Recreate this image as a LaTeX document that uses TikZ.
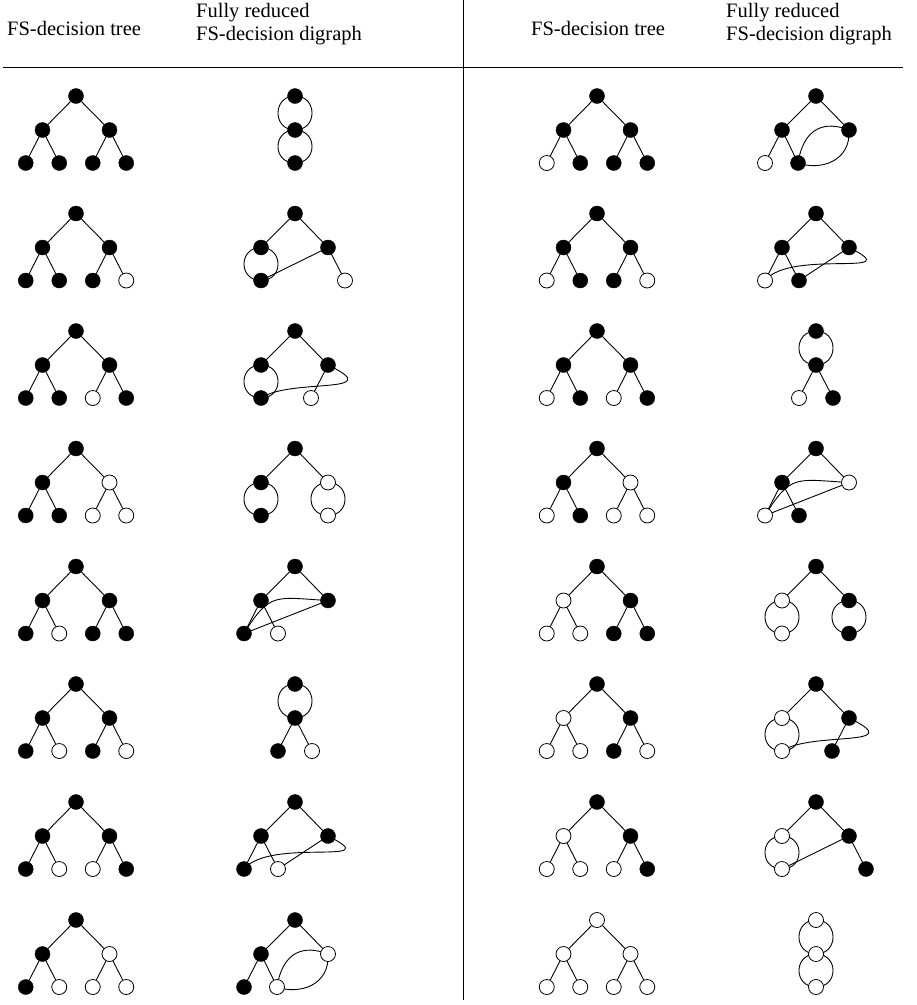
\documentclass[tikz,border=0pt]{standalone}
\usepackage{fontspec}
\setmainfont{Liberation Serif}
\usepackage{tikz}
\usetikzlibrary{backgrounds}
\tikzset{
    fs black/.style={circle, draw=black, fill=black, inner sep=0pt,
        minimum size=15pt},
    fs white/.style={circle, draw=black, fill=white, line width=0.8pt,
        inner sep=0pt, minimum size=15pt},
    fs edge/.style={line width=0.9pt},
    fs head/.style={font=\fontsize{20.5}{23.5}\selectfont, align=left,
        anchor=west, inner sep=0pt},
    fs rule/.style={line width=0.8pt},
}
% tree: shift, root, inner nodes, four leaves
\newcommand{\fstree}[8]{%
    \begin{scope}[shift={#1}]
        \node[#2] (t0) at (0,0) {};
        \node[#3] (t1) at (-33.5,34) {};
        \node[#4] (t2) at (33.5,34) {};
        \node[#5] (t3) at (-50.25,67) {};
        \node[#6] (t4) at (-16.75,67) {};
        \node[#7] (t5) at (16.75,67) {};
        \node[#8] (t6) at (50.25,67) {};
        \draw[fs edge] (t0) -- (t1) (t0) -- (t2) (t1) -- (t3) (t1) -- (t4)
            (t2) -- (t5) (t2) -- (t6);
    \end{scope}}
% double edge drawn as a circle through two centres
\newcommand{\fsloop}[2]{%
    \draw[fs edge] (#1.center) .. controls +(-22.7,0) and +(-22.7,0) .. (#2.center)
        .. controls +(22.7,0) and +(22.7,0) .. (#1.center);}

\begin{document}
\begin{tikzpicture}[x=1pt, y=-1pt]
    \useasboundingbox (0,0) rectangle (917,1005);

    % header
    \node[fs head] (tl) at (7,28) {FS-decision tree};
    \node[fs head] (gl) at (196,24) {Fully reduced\\FS-decision digraph};
    \node[fs head] (tr) at (531,28) {FS-decision tree};
    \node[fs head] (gr) at (726,24) {Fully reduced\\FS-decision digraph};
    \coordinate (ruleA) at (3,67);
    \coordinate (ruleB) at (903,67);
    \coordinate (divA) at (463,0);
    \coordinate (divB) at (463,1000);
    \draw[fs rule] (ruleA) -- (ruleB);
    \draw[fs rule] (divA) -- (divB);

    % trees, left column
    \fstree{(76,96)}{fs black}{fs black}{fs black}{fs black}{fs black}{fs black}{fs black}
    \fstree{(76,213.5)}{fs black}{fs black}{fs black}{fs black}{fs black}{fs black}{fs white}
    \fstree{(76,331)}{fs black}{fs black}{fs black}{fs black}{fs black}{fs white}{fs black}
    \fstree{(76,448.5)}{fs black}{fs black}{fs white}{fs black}{fs black}{fs white}{fs white}
    \fstree{(76,566.5)}{fs black}{fs black}{fs black}{fs black}{fs white}{fs black}{fs black}
    \fstree{(76,684)}{fs black}{fs black}{fs black}{fs black}{fs white}{fs black}{fs white}
    \fstree{(76,802)}{fs black}{fs black}{fs black}{fs black}{fs white}{fs white}{fs black}
    \fstree{(76,920)}{fs black}{fs black}{fs white}{fs black}{fs white}{fs white}{fs white}

    % trees, right column
    \fstree{(597,96)}{fs black}{fs black}{fs black}{fs white}{fs black}{fs black}{fs black}
    \fstree{(597,213.5)}{fs black}{fs black}{fs black}{fs white}{fs black}{fs black}{fs white}
    \fstree{(597,331)}{fs black}{fs black}{fs black}{fs white}{fs black}{fs white}{fs black}
    \fstree{(597,448.5)}{fs black}{fs black}{fs white}{fs white}{fs black}{fs white}{fs white}
    \fstree{(597,566.5)}{fs black}{fs white}{fs black}{fs white}{fs white}{fs black}{fs black}
    \fstree{(597,684)}{fs black}{fs white}{fs black}{fs white}{fs white}{fs black}{fs white}
    \fstree{(597,802)}{fs black}{fs white}{fs black}{fs white}{fs white}{fs white}{fs black}
    \fstree{(597,920)}{fs white}{fs white}{fs white}{fs white}{fs white}{fs white}{fs white}

    % digraphs, left column
    \begin{scope}[shift={(295,96)}]
        \node[fs black] (a0) at (0,0) {};
        \node[fs black] (a1) at (0,34) {};
        \node[fs black] (a2) at (0,67) {};
        \begin{scope}[on background layer]
            \fsloop{a0}{a1}
            \fsloop{a1}{a2}
        \end{scope}
    \end{scope}

    \begin{scope}[shift={(295,213.5)}]
        \node[fs black] (b0) at (0,0) {};
        \node[fs black] (b1) at (-34,34) {};
        \node[fs black] (b2) at (33,34) {};
        \node[fs black] (b3) at (-34,67) {};
        \node[fs white] (b4) at (50,67) {};
        \begin{scope}[on background layer]
            \draw[fs edge] (b0.center) -- (b1.center) (b0.center) -- (b2.center);
            \fsloop{b1}{b3}
            \draw[fs edge] (b3.center) -- (b2.center) -- (b4.center);
        \end{scope}
    \end{scope}

    \begin{scope}[shift={(295,331)}]
        \node[fs black] (c0) at (0,0) {};
        \node[fs black] (c1) at (-34,34) {};
        \node[fs black] (c2) at (33,34) {};
        \node[fs black] (c3) at (-34,67) {};
        \node[fs white] (c4) at (16,67) {};
        \begin{scope}[on background layer]
            \draw[fs edge] (c0.center) -- (c1.center) (c0.center) -- (c2.center);
            \fsloop{c1}{c3}
            \draw[fs edge] (c2.center) -- (c4.center);
            \draw[fs edge] (c3.center) .. controls (-5,47) and (95,64) .. (c2.center);
        \end{scope}
    \end{scope}

    \begin{scope}[shift={(295,448.5)}]
        \node[fs black] (d0) at (0,0) {};
        \node[fs black] (d1) at (-34,34) {};
        \node[fs white] (d2) at (33,34) {};
        \node[fs black] (d3) at (-34,67) {};
        \node[fs white] (d4) at (33,67) {};
        \begin{scope}[on background layer]
            \draw[fs edge] (d0.center) -- (d1.center) (d0.center) -- (d2.center);
            \fsloop{d1}{d3}
            \fsloop{d2}{d4}
        \end{scope}
    \end{scope}

    \begin{scope}[shift={(295,566.5)}]
        \node[fs black] (e0) at (0,0) {};
        \node[fs black] (e1) at (-34,34) {};
        \node[fs black] (e2) at (33,34) {};
        \node[fs black] (e3) at (-51,67) {};
        \node[fs white] (e4) at (-17,67) {};
        \begin{scope}[on background layer]
            \draw[fs edge] (e0.center) -- (e1.center) (e0.center) -- (e2.center);
            \draw[fs edge] (e1.center) -- (e3.center) (e1.center) -- (e4.center);
            \draw[fs edge] (e3.center) -- (e2.center);
            \draw[fs edge] (e3.center) .. controls (-25,25) and (-20,31) .. (e2.center);
        \end{scope}
    \end{scope}

    \begin{scope}[shift={(295,684)}]
        \node[fs black] (f0) at (0,0) {};
        \node[fs black] (f1) at (0,34) {};
        \node[fs black] (f2) at (-17,67) {};
        \node[fs white] (f3) at (17,67) {};
        \begin{scope}[on background layer]
            \fsloop{f0}{f1}
            \draw[fs edge] (f1.center) -- (f2.center) (f1.center) -- (f3.center);
        \end{scope}
    \end{scope}

    \begin{scope}[shift={(295,802)}]
        \node[fs black] (g0) at (0,0) {};
        \node[fs black] (g1) at (-34,34) {};
        \node[fs black] (g2) at (33,34) {};
        \node[fs black] (g3) at (-51,67) {};
        \node[fs white] (g4) at (-17,67) {};
        \begin{scope}[on background layer]
            \draw[fs edge] (g0.center) -- (g1.center) (g0.center) -- (g2.center);
            \draw[fs edge] (g1.center) -- (g3.center) (g1.center) -- (g4.center);
            \draw[fs edge] (g4.center) -- (g2.center);
            \draw[fs edge] (g3.center) .. controls (-25,35) and (95,65) .. (g2.center);
        \end{scope}
    \end{scope}

    \begin{scope}[shift={(295,920)}]
        \node[fs black] (h0) at (0,0) {};
        \node[fs black] (h1) at (-34,34) {};
        \node[fs white] (h2) at (33,34) {};
        \node[fs black] (h3) at (-51,67) {};
        \node[fs white] (h4) at (-18,67) {};
        \begin{scope}[on background layer]
            \draw[fs edge] (h0.center) -- (h1.center) (h0.center) -- (h2.center);
            \draw[fs edge] (h1.center) -- (h3.center) (h1.center) -- (h4.center);
            \draw[fs edge] (h4.center) .. controls (-12,30) and (10,25) .. (h2.center);
            \draw[fs edge] (h4.center) .. controls (5,75) and (35,65) .. (h2.center);
        \end{scope}
    \end{scope}

    % digraphs, right column
    \begin{scope}[shift={(816,96)}]
        \node[fs black] (p0) at (0,0) {};
        \node[fs black] (p1) at (-34,34) {};
        \node[fs black] (p2) at (33,34) {};
        \node[fs white] (p3) at (-51,67) {};
        \node[fs black] (p4) at (-18,67) {};
        \begin{scope}[on background layer]
            \draw[fs edge] (p0.center) -- (p1.center) (p0.center) -- (p2.center);
            \draw[fs edge] (p1.center) -- (p3.center) (p1.center) -- (p4.center);
            \draw[fs edge] (p4.center) .. controls (-12,30) and (10,25) .. (p2.center);
            \draw[fs edge] (p4.center) .. controls (5,75) and (35,65) .. (p2.center);
        \end{scope}
    \end{scope}

    \begin{scope}[shift={(816,213.5)}]
        \node[fs black] (q0) at (0,0) {};
        \node[fs black] (q1) at (-34,34) {};
        \node[fs black] (q2) at (33,34) {};
        \node[fs white] (q3) at (-51,67) {};
        \node[fs black] (q4) at (-17,67) {};
        \begin{scope}[on background layer]
            \draw[fs edge] (q0.center) -- (q1.center) (q0.center) -- (q2.center);
            \draw[fs edge] (q1.center) -- (q3.center) (q1.center) -- (q4.center);
            \draw[fs edge] (q4.center) -- (q2.center);
            \draw[fs edge] (q3.center) .. controls (-25,35) and (95,65) .. (q2.center);
        \end{scope}
    \end{scope}

    \begin{scope}[shift={(816,331)}]
        \node[fs black] (r0) at (0,0) {};
        \node[fs black] (r1) at (0,34) {};
        \node[fs white] (r2) at (-17,67) {};
        \node[fs black] (r3) at (17,67) {};
        \begin{scope}[on background layer]
            \fsloop{r0}{r1}
            \draw[fs edge] (r1.center) -- (r2.center) (r1.center) -- (r3.center);
        \end{scope}
    \end{scope}

    \begin{scope}[shift={(816,448.5)}]
        \node[fs black] (s0) at (0,0) {};
        \node[fs black] (s1) at (-34,34) {};
        \node[fs white] (s2) at (33,34) {};
        \node[fs white] (s3) at (-51,67) {};
        \node[fs black] (s4) at (-17,67) {};
        \begin{scope}[on background layer]
            \draw[fs edge] (s0.center) -- (s1.center) (s0.center) -- (s2.center);
            \draw[fs edge] (s1.center) -- (s3.center) (s1.center) -- (s4.center);
            \draw[fs edge] (s3.center) -- (s2.center);
            \draw[fs edge] (s3.center) .. controls (-25,25) and (-20,31) .. (s2.center);
        \end{scope}
    \end{scope}

    \begin{scope}[shift={(816,566.5)}]
        \node[fs black] (u0) at (0,0) {};
        \node[fs white] (u1) at (-34,34) {};
        \node[fs black] (u2) at (33,34) {};
        \node[fs white] (u3) at (-34,67) {};
        \node[fs black] (u4) at (33,67) {};
        \begin{scope}[on background layer]
            \draw[fs edge] (u0.center) -- (u1.center) (u0.center) -- (u2.center);
            \fsloop{u1}{u3}
            \fsloop{u2}{u4}
        \end{scope}
    \end{scope}

    \begin{scope}[shift={(816,684)}]
        \node[fs black] (v0) at (0,0) {};
        \node[fs white] (v1) at (-34,34) {};
        \node[fs black] (v2) at (33,34) {};
        \node[fs white] (v3) at (-34,67) {};
        \node[fs black] (v4) at (16,67) {};
        \begin{scope}[on background layer]
            \draw[fs edge] (v0.center) -- (v1.center) (v0.center) -- (v2.center);
            \fsloop{v1}{v3}
            \draw[fs edge] (v2.center) -- (v4.center);
            \draw[fs edge] (v3.center) .. controls (-5,47) and (95,64) .. (v2.center);
        \end{scope}
    \end{scope}

    \begin{scope}[shift={(816,802)}]
        \node[fs black] (w0) at (0,0) {};
        \node[fs white] (w1) at (-34,34) {};
        \node[fs black] (w2) at (33,34) {};
        \node[fs white] (w3) at (-34,67) {};
        \node[fs black] (w4) at (50,67) {};
        \begin{scope}[on background layer]
            \draw[fs edge] (w0.center) -- (w1.center) (w0.center) -- (w2.center);
            \fsloop{w1}{w3}
            \draw[fs edge] (w3.center) -- (w2.center) -- (w4.center);
        \end{scope}
    \end{scope}

    \begin{scope}[shift={(816,920)}]
        \node[fs white] (z0) at (0,0) {};
        \node[fs white] (z1) at (0,34) {};
        \node[fs white] (z2) at (0,67) {};
        \begin{scope}[on background layer]
            \fsloop{z0}{z1}
            \fsloop{z1}{z2}
        \end{scope}
    \end{scope}
\end{tikzpicture}
\end{document}
